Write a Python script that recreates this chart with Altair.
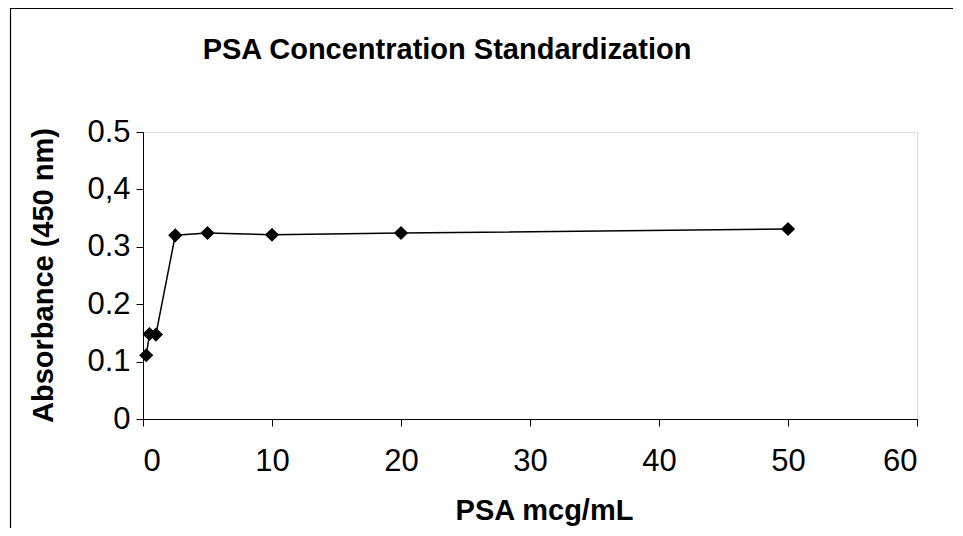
import altair as alt
import pandas as pd

conc = [0.25, 0.5, 1, 2.5, 5, 10, 20, 50]
absorb = [0.111, 0.148, 0.147, 0.320, 0.324, 0.321, 0.324, 0.331]
x_ticks = [0, 10, 20, 30, 40, 50, 60]
y_ticks = [0, 0.1, 0.2, 0.3, 0.4, 0.5]
chart_title = "PSA Concentration Standardization"

df = pd.DataFrame({"conc": conc, "abs": absorb})
FONT = "Liberation Sans"

x = alt.X("conc:Q", scale=alt.Scale(domain=[0, 60], nice=False, zero=False),
          axis=alt.Axis(values=x_ticks, title="PSA mcg/mL", grid=False,
                        domainColor="black", tickColor="black", tickSize=7,
                        labelFontSize=31, labelFont=FONT, labelColor="black",
                        labelPadding=20, titleFontSize=29, titleFont=FONT,
                        titleFontWeight="bold", titleColor="black",
                        titleX=401, titleY=100, titleBaseline="alphabetic",
                        titleAnchor="start", titleAlign="center"))
y = alt.Y("abs:Q", scale=alt.Scale(domain=[0, 0.5], nice=False, zero=False),
          axis=alt.Axis(values=y_ticks, title="Absorbance (450 nm)", grid=False,
                        domainColor="black", tickColor="black", tickSize=7,
                        labelFontSize=31, labelFont=FONT, labelColor="black",
                        labelPadding=6,
                        labelExpr="abs(datum.value) < 1e-9 ? '0' : (abs(datum.value - 0.4) < 1e-9 ? '0,4' : format(datum.value, '.1f'))",
                        titleFontSize=29, titleFont=FONT, titleFontWeight="bold",
                        titleColor="black", titleX=-91, titleY=143,
                        titleAngle=270, titleBaseline="alphabetic",
                        titleAlign="center", titleAnchor="start"))

line = alt.Chart(df).mark_line(color="black", strokeWidth=1.5).encode(x=x, y=y)
pts = alt.Chart(df).mark_point(shape="diamond", filled=True, color="black",
                               size=200, opacity=1).encode(x=x, y=y)
one = pd.DataFrame({"t": [chart_title]})
border = alt.Chart(one).mark_rect(
    fillOpacity=0, stroke="black", strokeWidth=1.2).encode(
    x=alt.value(-132.5), x2=alt.value(1000), y=alt.value(-123.5), y2=alt.value(1000))
title = alt.Chart(one).mark_text(font=FONT, fontSize=29, fontWeight="bold",
                                 color="black", align="center",
                                 baseline="alphabetic").encode(
    text="t:N", x=alt.value(304), y=alt.value(-73))

chart = alt.layer(border, line, pts, title).properties(
    width=774, height=287,
    autosize=alt.AutoSizeParams(type="none"),
    padding={"left": 135, "top": 124, "right": 36, "bottom": 109},
).configure_view(stroke="#888888", strokeWidth=1.2).configure(background="white")

chart.save("out.html", embed_options={"renderer": "svg", "actions": False})
